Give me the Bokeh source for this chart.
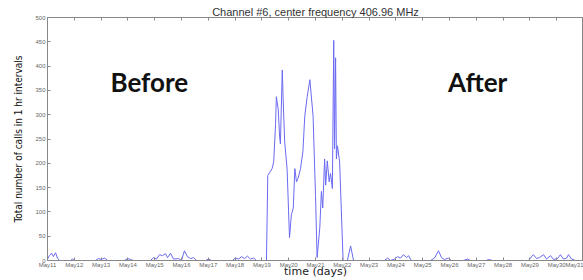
from bokeh.plotting import figure
from bokeh.models import Range1d, LinearAxis, FixedTicker, Label
from bokeh.embed import file_html
from bokeh.resources import INLINE

# time in days since May 11 00:00, and hourly call counts
days = [0.00, 0.07, 0.15, 0.22, 0.30, 0.37, 0.45, 0.86, 0.93, 1.01,
        1.79, 1.90, 2.01, 2.13, 2.24, 2.87, 2.99, 3.10, 3.21,
        3.84, 3.96, 4.07, 4.18, 4.29, 4.40, 4.48, 4.59, 4.70, 4.89, 5.00,
        5.11, 5.22, 5.34, 5.45, 5.56, 5.90, 6.01, 6.12,
        6.90, 7.01, 7.13, 7.24, 7.35, 7.46, 7.57, 7.69, 7.80,
        8.17, 8.22, 8.30, 8.38, 8.44, 8.51, 8.54, 8.61, 8.66, 8.69,
        8.76, 8.79, 8.85, 8.94, 9.03, 9.10, 9.17, 9.23, 9.29, 9.35,
        9.44, 9.53, 9.60, 9.69, 9.79, 9.91, 10.00, 10.06, 10.16, 10.22,
        10.27, 10.34, 10.38, 10.44, 10.51, 10.56, 10.63, 10.68, 10.71, 10.75,
        10.78, 10.82, 10.90, 11.03, 11.19, 11.31, 11.42,
        12.57, 12.69, 12.80, 12.95, 13.06, 13.17, 13.28, 13.40, 13.47, 13.58,
        14.29, 14.44, 14.59, 14.70, 14.81, 14.96, 15.07,
        15.52, 15.67, 15.78, 16.34, 16.49, 16.60,
        17.95, 18.02, 18.13, 18.25, 18.36, 18.51, 18.62, 18.77, 18.88,
        19.03, 19.14, 19.25, 19.37, 19.44, 19.55, 19.70, 20.00]
calls = [3, 10, 15, 8, 16, 5, 0, 0, 3, 0,
         0, 4, 2, 5, 0, 0, 4, 2, 0,
         0, 6, 3, 12, 10, 14, 6, 15, 3, 4, 0,
         20, 8, 4, 6, 0, 0, 3, 0,
         0, 5, 3, 8, 4, 9, 3, 5, 0,
         0, 175, 182, 189, 203, 280, 337, 311, 256, 240,
         392, 337, 244, 189, 47, 94, 108, 189, 162, 169,
         189, 224, 297, 337, 372, 297, 134, 6, 67, 142,
         108, 209, 155, 205, 162, 179, 148, 453, 230, 417,
         209, 236, 203, 0, 0, 30, 0,
         0, 5, 0, 3, 8, 5, 12, 6, 10, 0,
         0, 5, 20, 6, 2, 5, 0,
         0, 3, 0, 0, 2, 0,
         0, 5, 12, 4, 6, 12, 3, 10, 2,
         4, 12, 3, 5, 12, 3, 0, 0]

tick_days = list(range(21))
tick_labels = ["May11", "May12", "May13", "May14", "May15", "May16", "May17",
               "May18", "May19", "May20", "May21", "May22", "May23", "May24",
               "May25", "May26", "May27", "May28", "May29", "May30", "May31"]
y_ticks = [0, 50, 100, 150, 200, 250, 300, 350, 400, 450, 500]

p = figure(width=583, height=280, output_backend="svg", toolbar_location=None,
           x_range=Range1d(0, 20), y_range=Range1d(0, 500),
           min_border_left=47, min_border_right=0, min_border_top=17,
           min_border_bottom=0)
p.background_fill_color = "white"
p.border_fill_color = "white"
p.outline_line_color = "#888888"
p.xgrid.visible = False
p.ygrid.visible = False

p.title.text = "Channel #6, center frequency 406.96 MHz"
p.title.text_font = "Liberation Sans"
p.title.text_font_size = "11px"
p.title.text_font_style = "normal"
p.title.text_color = "#333333"
p.title.align = "center"
p.title.standoff = 0

def style_axis(ax):
    ax.axis_line_color = "#888888"
    ax.major_tick_line_color = "#888888"
    ax.major_tick_in = 3
    ax.major_tick_out = 0
    ax.minor_tick_line_color = None
    ax.major_label_text_font = "Liberation Sans"
    ax.major_label_text_color = "#666666"
    ax.major_label_text_font_size = "6px"
    ax.major_label_standoff = 2

xax = p.xaxis[0]
xax.ticker = FixedTicker(ticks=tick_days)
xax.major_label_overrides = {d: l for d, l in zip(tick_days, tick_labels)}
style_axis(xax)
xax.major_label_standoff = 1
xax.axis_label = "time (days)"
xax.axis_label_text_font = "DejaVu Sans"
xax.axis_label_text_font_size = "11px"
xax.axis_label_text_font_style = "normal"
xax.axis_label_text_color = "#222222"
xax.axis_label_standoff = -6

yax = p.yaxis[0]
yax.ticker = FixedTicker(ticks=y_ticks)
style_axis(yax)
yax.axis_label = "Total number of calls in 1 hr intervals"
yax.axis_label_text_font = "DejaVu Sans Condensed"
yax.axis_label_text_font_size = "10px"
yax.axis_label_text_font_style = "normal"
yax.axis_label_text_color = "#111111"
yax.axis_label_standoff = 8

top = LinearAxis(ticker=FixedTicker(ticks=tick_days))
style_axis(top)
top.major_label_overrides = {d: "" for d in tick_days}
top.major_label_standoff = 0
p.add_layout(top, "above")

p.line(days, calls, line_color="#6a6af2", line_width=1)

p.add_layout(Label(x=3.8, y=368, text="Before", text_font="Lato",
                   text_font_size="26px", text_font_style="bold",
                   text_color="#111111", text_align="center",
                   text_baseline="middle"))
p.add_layout(Label(x=16.05, y=368, text="After", text_font="Lato",
                   text_font_size="26px", text_font_style="bold",
                   text_color="#111111", text_align="center",
                   text_baseline="middle"))

open("out.html", "w").write(file_html(p, INLINE))
